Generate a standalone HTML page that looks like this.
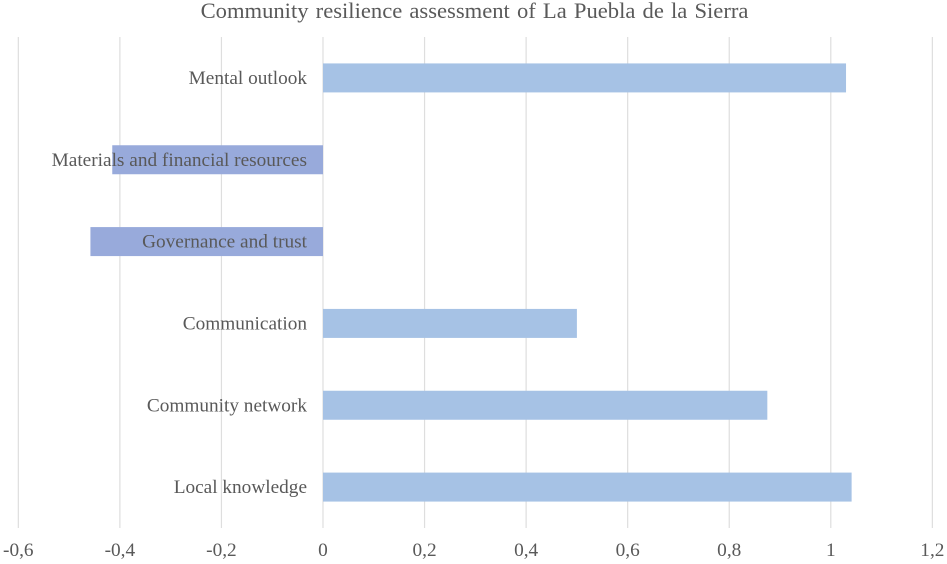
<!DOCTYPE html>
<html>
<head>
<meta charset="utf-8">
<style>
html,body{margin:0;padding:0;background:#fff;}
svg{display:block;filter:blur(0.35px);}
text{font-family:"Liberation Serif",serif;fill:#595959;}
</style>
</head>
<body>
<svg id="chart" width="947" height="564" viewBox="0 0 947 564" xmlns="http://www.w3.org/2000/svg">
<rect width="947" height="564" fill="#ffffff"/>
<text x="474.5" y="18" text-anchor="middle" font-size="22.6" word-spacing="1.5">Community resilience assessment of La Puebla de la Sierra</text>
<g id="grid"></g>
<g id="bars"></g>
<g id="cats"></g>
<g id="ticks"></g>
</svg>
<script>
const categories = ["Mental outlook", "Materials and financial resources", "Governance and trust", "Communication", "Community network", "Local knowledge"];
const values = [1.03, -0.415, -0.458, 0.5, 0.875, 1.041];
const tickValues = [-0.6, -0.4, -0.2, 0, 0.2, 0.4, 0.6, 0.8, 1, 1.2];
const tickLabels = ["-0,6", "-0,4", "-0,2", "0", "0,2", "0,4", "0,6", "0,8", "1", "1,2"];

const NS = "http://www.w3.org/2000/svg";
const plotTop = 37, plotBottom = 528, barH = 29;
const xScale = v => 323 + v * 507.8;
const bandH = (plotBottom - plotTop) / categories.length;
const yCenter = i => plotTop + bandH * (i + 0.5);
const gridG = document.getElementById("grid");
const barsG = document.getElementById("bars");
const catsG = document.getElementById("cats");
const ticksG = document.getElementById("ticks");

tickValues.forEach((t, i) => {
  const line = document.createElementNS(NS, "line");
  
  
  line.setAttribute("x1", xScale(t));
  line.setAttribute("x2", xScale(t));
  line.setAttribute("y1", plotTop);
  line.setAttribute("y2", plotBottom);
  line.setAttribute("stroke", "#dedede");
  line.setAttribute("stroke-width", "1.2");
  gridG.appendChild(line);

  const label = document.createElementNS(NS, "text");
  
  
  label.setAttribute("x", xScale(t));
  label.setAttribute("y", 556);
  label.setAttribute("text-anchor", "middle");
  label.setAttribute("font-size", "19.3");
  label.textContent = tickLabels[i];
  ticksG.appendChild(label);
});

values.forEach((v, i) => {
  const rect = document.createElementNS(NS, "rect");
  
  
  const x0 = xScale(Math.min(v, 0));
  const x1 = xScale(Math.max(v, 0));
  rect.setAttribute("x", x0);
  rect.setAttribute("y", yCenter(i) - barH / 2);
  rect.setAttribute("width", x1 - x0);
  rect.setAttribute("height", barH);
  rect.setAttribute("fill", v < 0 ? "#98aadb" : "#a6c2e5");
  barsG.appendChild(rect);

  const label = document.createElementNS(NS, "text");
  
  
  label.setAttribute("x", 307);
  label.setAttribute("y", yCenter(i) + 6);
  label.setAttribute("text-anchor", "end");
  label.setAttribute("font-size", "19.3");
  label.textContent = categories[i];
  catsG.appendChild(label);
});
</script>
</body>
</html>
